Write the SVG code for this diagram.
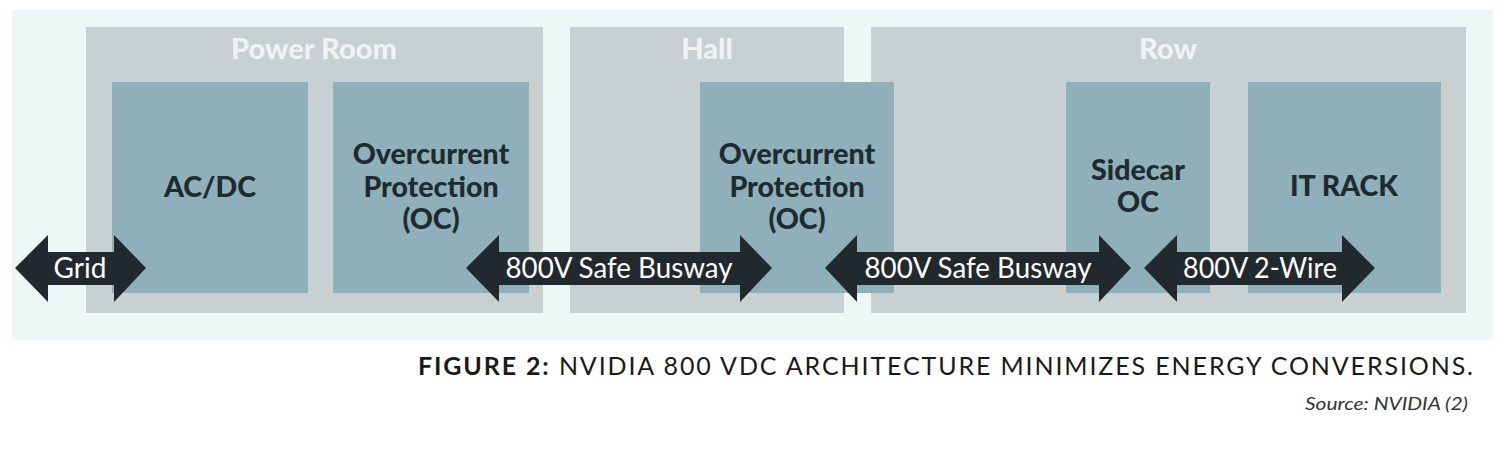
<svg xmlns="http://www.w3.org/2000/svg" width="1500" height="454" viewBox="0 0 1500 454">
<style>
.zone{fill:#c9d0d2}
.box{fill:#8fb0ba}
.zt{font-family:Lato,"Liberation Sans",sans-serif;font-weight:900;font-size:29px;fill:#eef3f3;text-anchor:middle}
.bt{font-family:Lato,"Liberation Sans",sans-serif;font-weight:900;font-size:28.5px;fill:#1e2b31;text-anchor:middle}
.arr{fill:#22292e}
.at{font-family:Lato,"Liberation Sans",sans-serif;font-size:28px;fill:#ffffff;text-anchor:middle}
</style>
<rect width="1500" height="454" fill="#ffffff"/>
<rect x="12" y="10" width="1481" height="330" fill="#eef7f6"/>
<g id="power-room"><rect class="zone" x="86" y="27" width="457" height="286"/><text class="zt" x="314" y="59">Power Room</text></g>
<g id="hall"><rect class="zone" x="570" y="27" width="274" height="286"/><text class="zt" x="707" y="59">Hall</text></g>
<g id="row"><rect class="zone" x="871" y="27" width="595" height="286"/><text class="zt" x="1168" y="59">Row</text></g>
<g id="acdc"><rect class="box" x="112" y="82" width="196" height="211"/><text class="bt" x="210" y="197">AC/DC</text></g>
<g id="oc1"><rect class="box" x="333" y="82" width="196" height="211"/><text class="bt" x="431" y="164">Overcurrent</text><text class="bt" x="431" y="197">Protection</text><text class="bt" x="431" y="229">(OC)</text></g>
<g id="oc2"><rect class="box" x="700" y="82" width="194" height="211"/><text class="bt" x="797" y="164">Overcurrent</text><text class="bt" x="797" y="197">Protection</text><text class="bt" x="797" y="229">(OC)</text></g>
<g id="sidecar"><rect class="box" x="1066" y="82" width="144" height="211"/><text class="bt" x="1138" y="180">Sidecar</text><text class="bt" x="1138" y="212">OC</text></g>
<g id="itrack"><rect class="box" x="1248" y="82" width="193" height="211"/><text class="bt" x="1344" y="196">IT RACK</text></g>
<g id="connectors">
<g id="grid"><polygon class="arr" points="15,268 48,235 48,252 114,252 114,235 146,268 114,302 114,285 48,285 48,302"/><text class="at" x="80" y="278">Grid</text></g>
<g id="busway1"><polygon class="arr" points="466,268 499,235 499,252 740,252 740,235 772,268 740,302 740,285 499,285 499,302"/><text class="at" x="619" y="278" textLength="227" lengthAdjust="spacingAndGlyphs">800V Safe Busway</text></g>
<g id="busway2"><polygon class="arr" points="825,268 857,235 857,252 1099,252 1099,235 1131,268 1099,302 1099,285 857,285 857,302"/><text class="at" x="978" y="278" textLength="227" lengthAdjust="spacingAndGlyphs">800V Safe Busway</text></g>
<g id="twowire"><polygon class="arr" points="1144,268 1177,235 1177,252 1342,252 1342,235 1375,268 1342,302 1342,285 1177,285 1177,302"/><text class="at" x="1260" y="278" textLength="154" lengthAdjust="spacingAndGlyphs">800V 2-Wire</text></g>
</g>
<text x="418" y="375" textLength="1055" lengthAdjust="spacing" font-family="Lato,'Liberation Sans',sans-serif" font-size="25" fill="#1a1a1a"><tspan font-weight="bold">FIGURE 2:</tspan> NVIDIA 800 VDC ARCHITECTURE MINIMIZES ENERGY CONVERSIONS.</text>
<text x="1305" y="410" textLength="163" lengthAdjust="spacingAndGlyphs" font-family="Lato,'Liberation Sans',sans-serif" font-style="italic" font-size="17" fill="#333333">Source: NVIDIA (2)</text>
</svg>
